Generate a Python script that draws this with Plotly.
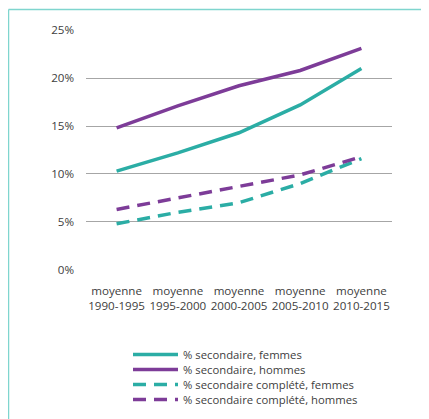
import plotly.graph_objects as go

categories = ["moyenne<br>1990-1995", "moyenne<br>1995-2000", "moyenne<br>2000-2005",
              "moyenne<br>2005-2010", "moyenne<br>2010-2015"]
sec_femmes = [10.3, 12.2, 14.3, 17.2, 21.0]
sec_hommes = [14.8, 17.1, 19.2, 20.8, 23.1]
comp_femmes = [4.8, 6.0, 7.0, 9.0, 11.6]
comp_hommes = [6.3, 7.5, 8.7, 9.9, 11.8]
series_names = ["% secondaire, femmes", "% secondaire, hommes",
                "% secondaire complété, femmes", "% secondaire complété, hommes"]
y_ticks = [0, 5, 10, 15, 20, 25]
y_labels = ["0%", "5%", "10%", "15%", "20%", "25%"]

TEAL = "#2bada5"
PURPLE = "#7d3c98"

OFF = 8  # page body margin
W, H = 429 - OFF, 419 - OFF
L, R, T, B = 86 - OFF, 37, 30 - OFF, 149
pw, ph = W - L - R, H - T - B


def px_x(p):
    return (p - OFF - L) / pw


def px_y(p):
    return 1 - (p - OFF - T) / ph


series = [sec_femmes, sec_hommes, comp_femmes, comp_hommes]
colors = [TEAL, PURPLE, TEAL, PURPLE]
dashes = ["solid", "solid", "13px,8px", "13px,8px"]
legend_ids = ["legend", "legend2", "legend3", "legend4"]
legend_rows = [353, 368, 383, 398]

fig = go.Figure()
for vals, name, col, dsh, lid in zip(series, series_names, colors, dashes, legend_ids):
    fig.add_trace(go.Scatter(x=categories, y=vals, mode="lines", name=name, legend=lid,
                             line=dict(color=col, width=3.5, dash=dsh)))

frame = "#7fd5ce"
fig.add_shape(type="line", xref="paper", yref="paper", x0=px_x(8.5), x1=px_x(440),
              y0=px_y(9.5), y1=px_y(9.5), line=dict(color=frame, width=1.5))
fig.add_shape(type="line", xref="paper", yref="paper", x0=px_x(8.5), x1=px_x(8.5),
              y0=px_y(9.5), y1=px_y(440), line=dict(color=frame, width=1.5))

legend_common = dict(xanchor="left", yanchor="top", font=dict(size=11.3, color="#404040"),
                     itemwidth=45, bgcolor="rgba(0,0,0,0)")
layout_legends = {}
for lid, row in zip(legend_ids, legend_rows):
    layout_legends[lid] = dict(x=px_x(128), y=px_y(row - 13), **legend_common)

fig.update_layout(
    width=W, height=H,
    margin=dict(l=L, r=R, t=T, b=B, autoexpand=False),
    paper_bgcolor="white", plot_bgcolor="white",
    font=dict(family="Open Sans", size=11, color="#404040"),
    showlegend=True,
    xaxis=dict(type="category", range=[-0.5, 4.5], showgrid=False, showline=False,
               ticks="", ticklabelstandoff=12, tickfont=dict(size=11.6, color="#404040")),
    yaxis=dict(range=[-0.02, 25.02], tickvals=y_ticks, ticktext=y_labels, showgrid=True,
               gridcolor="#a6a6a6", gridwidth=1, zeroline=False, showline=False,
               ticks="", ticklabelstandoff=11, tickfont=dict(size=11.6, color="#404040")),
    **layout_legends,
)

fig.write_html("out.html")
